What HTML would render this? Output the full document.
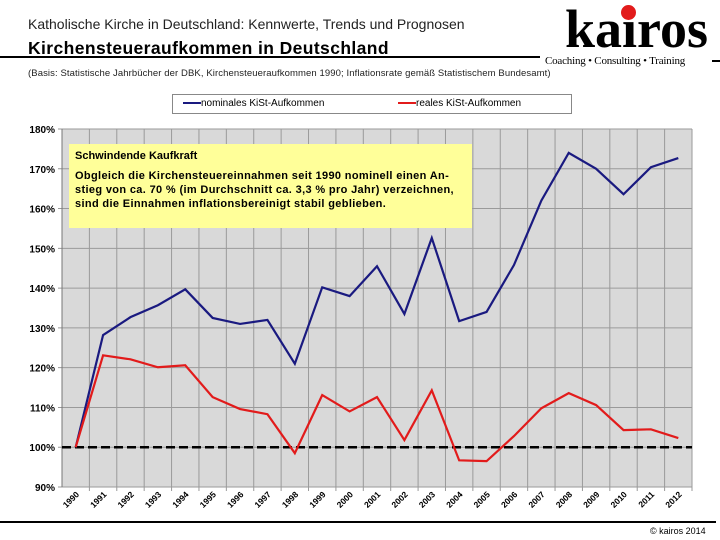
<!DOCTYPE html>
<html><head><meta charset="utf-8"><style>
body{margin:0;width:720px;height:540px;background:#fff;font-family:"Liberation Sans",sans-serif;overflow:hidden;position:relative}
.a{position:absolute;white-space:nowrap}
</style></head><body>
<div class="a" style="left:28px;top:16px;font-size:14px;color:#222">Katholische Kirche in Deutschland: Kennwerte, Trends und Prognosen</div>
<div class="a" style="left:28px;top:38px;font-size:17.5px;font-weight:bold;color:#000;letter-spacing:0.4px">Kirchensteueraufkommen in Deutschland</div>
<div class="a" style="left:565px;top:-2px;font-family:'Liberation Serif',serif;font-size:54px;font-weight:bold;color:#000;letter-spacing:0px">kairos</div>
<div class="a" style="left:621px;top:5px;width:15px;height:15px;border-radius:50%;background:#e21b1b"></div>
<div class="a" style="left:545px;top:55px;font-family:'Liberation Serif',serif;font-size:11px;color:#000;letter-spacing:-0.2px">Coaching • Consulting • Training</div>
<div class="a" style="left:0;top:56px;width:540px;height:2px;background:#000"></div>
<div class="a" style="left:712px;top:60px;width:8px;height:2px;background:#000"></div>
<div class="a" style="left:28px;top:68px;font-size:9.5px;color:#222;letter-spacing:0.1px">(Basis: Statistische Jahrbücher der DBK, Kirchensteueraufkommen 1990; Inflationsrate gemäß Statistischem Bundesamt)</div>
<svg class="a" style="left:0;top:0" width="720" height="540" id="chart"></svg>
<div class="a" style="left:172px;top:94px;width:398px;height:18px;border:1px solid #888;background:#fff;font-size:10px">
<span class="a" style="left:10px;top:3px"><span style="display:inline-block;width:18px;height:2px;background:#1a1a80;vertical-align:middle"></span>nominales KiSt-Aufkommen</span>
<span class="a" style="left:225px;top:3px"><span style="display:inline-block;width:18px;height:2px;background:#e21b1b;vertical-align:middle"></span>reales KiSt-Aufkommen</span>
</div>
<div class="a" style="left:69px;top:144px;width:403px;height:84px;background:#ffff99;font-size:11px;font-weight:bold;color:#000;line-height:14px;white-space:normal">
<div style="position:absolute;left:6px;top:5px">Schwindende Kaufkraft</div>
<div style="position:absolute;left:6px;top:25px;width:400px;letter-spacing:0.35px">Obgleich die Kirchensteuereinnahmen seit 1990 nominell einen An-<br>stieg von ca. 70 % (im Durchschnitt ca. 3,3 % pro Jahr) verzeichnen,<br>sind die Einnahmen inflationsbereinigt stabil geblieben.</div>
</div>
<div class="a" style="left:0;top:521px;width:716px;height:2px;background:#000"></div>
<div class="a" style="left:650px;top:526px;font-size:9px;color:#000">© kairos 2014</div>
<script>
const years=["1990","1991","1992","1993","1994","1995","1996","1997","1998","1999","2000","2001","2002","2003","2004","2005","2006","2007","2008","2009","2010","2011","2012"];
const nominal=[100,128.2,132.7,135.7,139.7,132.5,131,132,121,140.2,138,145.5,133.5,152.6,131.7,134,145.8,162,174,170,163.6,170.4,172.7];
const real=[100,123.1,122.1,120.1,120.6,112.6,109.6,108.3,98.5,113.1,109,112.6,101.8,114.3,96.7,96.5,102.8,109.8,113.6,110.6,104.3,104.5,102.3];
const yTicks=[90,100,110,120,130,140,150,160,170,180];
const svg=document.getElementById('chart');const NS='http://www.w3.org/2000/svg';
const L=62,R=692,T=129,B=487,ymin=90,ymax=180;
const step=(R-L)/years.length;
const x=i=>L+step*(i+0.5);
const y=v=>B-(v-ymin)/(ymax-ymin)*(B-T);
function mk(t,a){const e=document.createElementNS(NS,t);for(const k in a)e.setAttribute(k,a[k]);svg.appendChild(e);return e;}
let bg=mk('rect',{x:L,y:T,width:R-L,height:B-T,fill:'#d9d9d9'});


yTicks.forEach(v=>{
 let g=mk('line',{x1:L-4,x2:R,y1:y(v),y2:y(v),stroke:'#9a9a9a','stroke-width':1});
 
 
 let t=mk('text',{x:L-7,y:y(v)+4,'text-anchor':'end','font-size':10,'font-weight':'bold','font-family':'Liberation Sans'});
 t.textContent=v+'%';
 
 
});
years.forEach((yr,i)=>{
 let g=mk('line',{x1:L+step*(i+1),x2:L+step*(i+1),y1:T,y2:B+4,stroke:'#9a9a9a','stroke-width':1});
 
 
 let t=mk('text',{x:0,y:0,'text-anchor':'end','font-size':8.5,'font-weight':'bold','font-family':'Liberation Sans',transform:`translate(${x(i)+4},${B+8}) rotate(-45)`});
 t.textContent=yr;
 
 
});
let ax=mk('line',{x1:L,x2:L,y1:T,y2:B,stroke:'#777'});


let base=mk('line',{x1:L,x2:R,y1:y(100),y2:y(100),stroke:'#000','stroke-width':2.5,'stroke-dasharray':'9,4'});


let pb=mk('polyline',{points:nominal.map((v,i)=>x(i)+','+y(v)).join(' '),fill:'none',stroke:'#1a1a80','stroke-width':2.2});


let pr=mk('polyline',{points:real.map((v,i)=>x(i)+','+y(v)).join(' '),fill:'none',stroke:'#e21b1b','stroke-width':2.2});


</script>
</body></html>
